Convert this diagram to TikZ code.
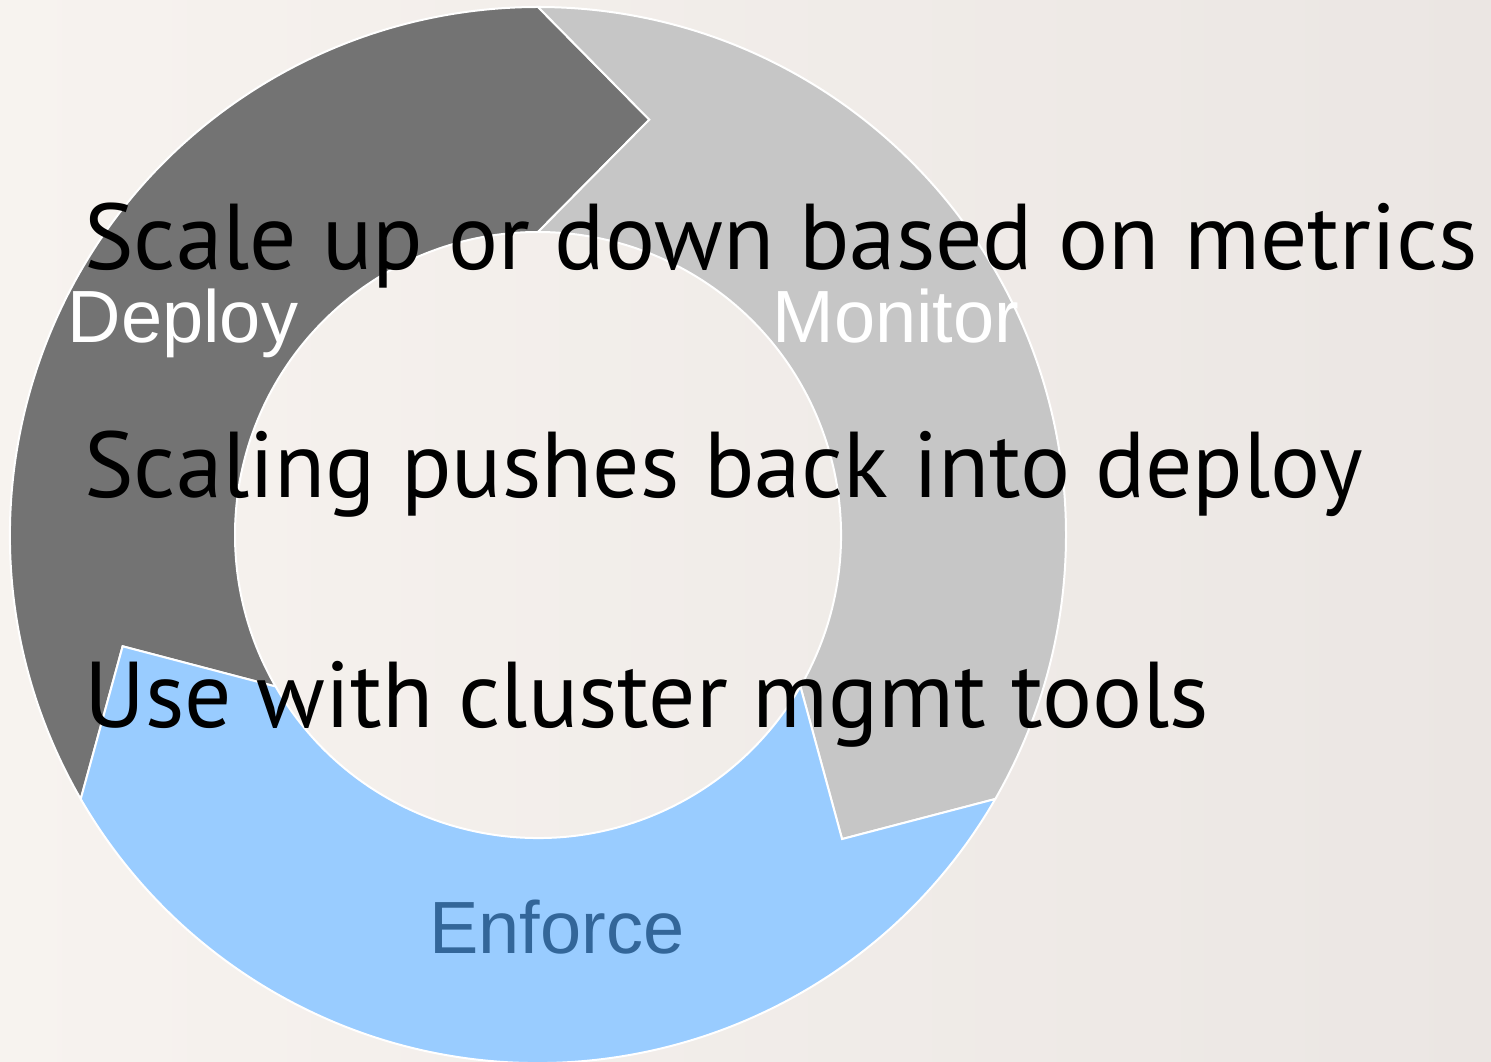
\documentclass[tikz,border=0pt]{standalone}
\usepackage{fontspec}
\setmainfont{Liberation Sans}
\newfontfamily\notefont{PT Sans}
\definecolor{bgleft}{RGB}{247,243,239}
\definecolor{bgright}{RGB}{235,230,227}
\definecolor{deploygray}{RGB}{115,115,115}
\definecolor{monitorgray}{RGB}{198,198,198}
\definecolor{enforceblue}{RGB}{153,204,255}
\definecolor{enforcetext}{RGB}{51,102,153}
\tikzset{
  seg/.style={draw=white, line width=2pt, line join=miter},
  phase/.style={font=\fontsize{74}{80}\selectfont, inner sep=0pt, anchor=base},
  note/.style={font=\notefont\fontsize{93.5}{100}\selectfont, text=black, inner sep=0pt, anchor=base west},
}
\begin{document}
\begin{tikzpicture}[x=1pt,y=1pt]
  \useasboundingbox (0,0) rectangle (1491,1061);
  \shade[left color=bgleft, right color=bgright] (0,0) rectangle (1491,1061);

  % three-phase cycle ring, each arc ending in a chevron head
  \begin{scope}[shift={(538,526)}]
    \fill[deploygray, seg]
      (210:528pt) arc[start angle=210, end angle=90, radius=528pt]
      -- (75:430pt) -- (90:303pt)
      arc[start angle=90, end angle=210, radius=303pt]
      -- (195:430pt) -- cycle;
    \fill[monitorgray, seg]
      (90:528pt) arc[start angle=90, end angle=-30, radius=528pt]
      -- (-45:430pt) -- (-30:303pt)
      arc[start angle=-30, end angle=90, radius=303pt]
      -- (75:430pt) -- cycle;
    \fill[enforceblue, seg]
      (-30:528pt) arc[start angle=-30, end angle=-150, radius=528pt]
      -- (-165:430pt) -- (-150:303pt)
      arc[start angle=-150, end angle=-30, radius=303pt]
      -- (-45:430pt) -- cycle;
  \end{scope}

  % phase labels
  \node[phase, text=white] (deploy) at (183,718) {Deploy};
  \node[phase, text=white] (monitor) at (896,718) {Monitor};
  \node[phase, text=enforcetext] (enforce) at (557,108) {Enforce};

  % notes over the ring
  \node[note] (scale) at (84,791) {Scale up or down based on metrics};
  \node[note] (push) at (84,563) {Scaling pushes back into deploy};
  \node[note] (tools) at (84,333) {Use with cluster mgmt tools};
\end{tikzpicture}
\end{document}
